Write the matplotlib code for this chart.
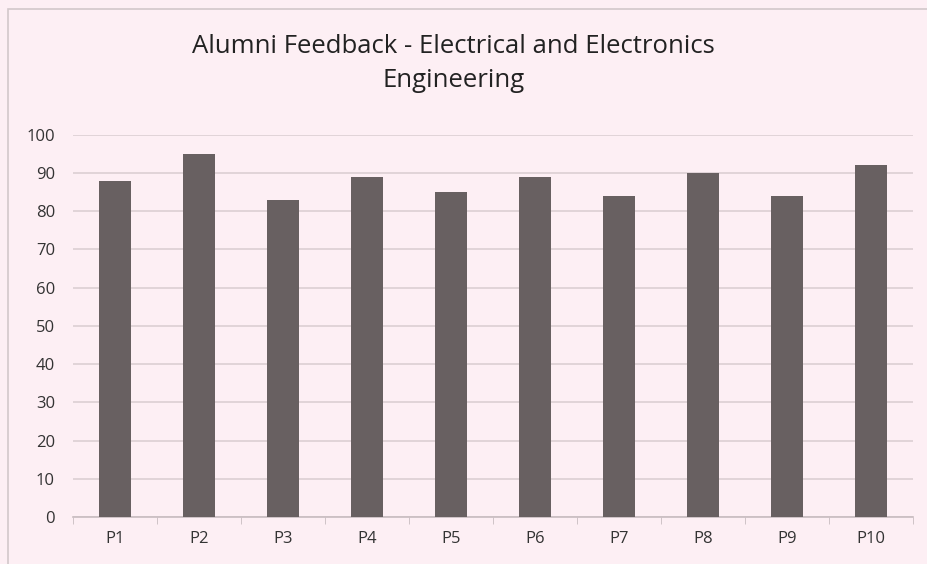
import matplotlib.pyplot as plt
import numpy as np
from matplotlib.patches import Rectangle

programs = ['P1', 'P2', 'P3', 'P4', 'P5', 'P6', 'P7', 'P8', 'P9', 'P10']
scores = [88, 95, 83, 89, 85, 89, 84, 90, 84, 92]

bg = '#fdeff4'
bar_color = '#686061'

plt.rcParams['font.family'] = ['Open Sans', 'DejaVu Sans']

fig = plt.figure(figsize=(9.27, 5.64), dpi=100, facecolor=bg)
ax = fig.add_axes([0.0787, 0.0833, 0.906, 0.678])
ax.set_facecolor(bg)

ind = np.arange(len(programs))
ax.bar(ind, scores, 0.38, color=bar_color, zorder=3)

ax.set_xlim(-0.5, len(programs) - 0.5)
ax.set_ylim(0, 100)
ax.set_yticks(np.arange(0, 101, 10))
ax.yaxis.grid(True, color='#dccfd3', linewidth=1.2, zorder=0)

ax.set_xticks(ind)
ax.set_xticklabels(programs)
ax.set_xticks(np.arange(-0.5, len(programs), 1), minor=True)
ax.tick_params(axis='x', which='major', length=0, pad=10, labelsize=12, labelcolor='#333333')
ax.tick_params(axis='x', which='minor', length=5, color='#c8bcc0', direction='out')
ax.tick_params(axis='y', length=0, pad=13, labelsize=12, labelcolor='#333333')

for side in ['top', 'right', 'left']:
    ax.spines[side].set_visible(False)
ax.spines['bottom'].set_color('#c8bcc0')
ax.spines['bottom'].set_linewidth(1.2)

fig.text(0.489, 0.887, 'Alumni Feedback - Electrical and Electronics\nEngineering',
         ha='center', va='center', fontsize=18.5, color='#222222', linespacing=1.45)

# thin frame around the chart area
fig.patches.append(Rectangle((0.009, -0.01), 1.0, 0.994, transform=fig.transFigure,
                             fill=False, edgecolor='#d2c8cb', linewidth=1.2))

fig.savefig('out.png', dpi=100, facecolor=bg)
